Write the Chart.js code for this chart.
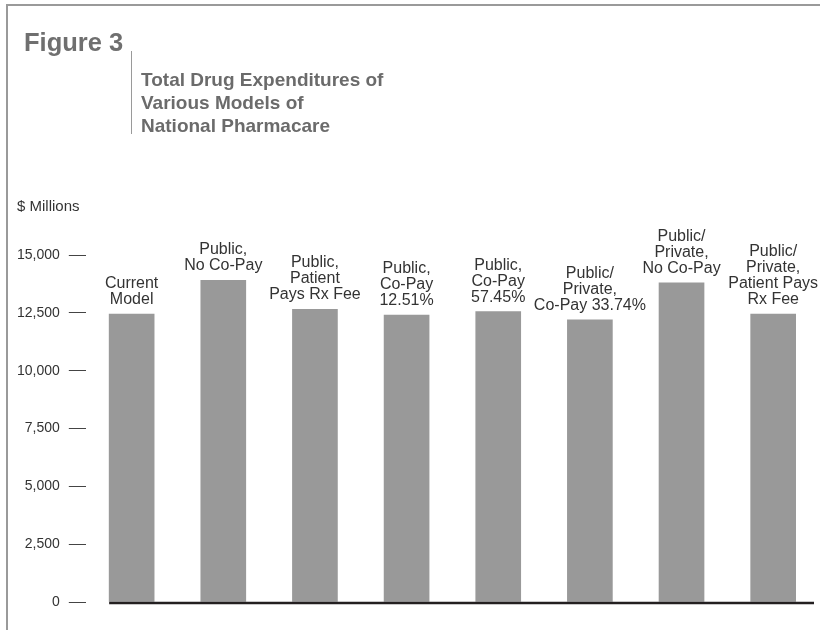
<!DOCTYPE html>
<html>
<head>
<meta charset="utf-8">
<script src="https://cdn.jsdelivr.net/npm/chart.js@4"></script>
<style>
    body { margin: 0; background: #fff; font-family: "Liberation Sans", Arial, sans-serif; }
    .wrap { position: relative; width: 820px; height: 630px; overflow: hidden; }
    #chart { position: absolute; left: 0; top: 0; }
    .frame { position: absolute; left: 6px; top: 4px; width: 830px; height: 640px;
             border-top: 2px solid #9a9a9a; border-left: 2px solid #9a9a9a; }
    .fig { position: absolute; left: 24px; top: 30px; font-size: 25.5px; line-height: 25px;
           font-weight: bold; color: #6f6f6f; }
    .sep { position: absolute; left: 131px; top: 51px; width: 1px; height: 83px; background: #9a9a9a; }
    .sub { position: absolute; left: 141px; top: 68px; font-size: 19px; line-height: 23px;
           font-weight: bold; color: #6b6b6b; }
    .unit { position: absolute; left: 17px; top: 198px; font-size: 15px; line-height: 15px; color: #333; }
</style>
</head>
<body>
<div class="wrap">
    <canvas id="chart" width="820" height="630"></canvas>
    <div class="frame"></div>
    <div class="fig">Figure 3</div>
    <div class="sep"></div>
    <div class="sub">Total Drug Expenditures of<br>Various Models of<br>National Pharmacare</div>
    <div class="unit">$ Millions</div>
</div>
<script>
// --- Data ---
const models = [
    ['Current', 'Model'],
    ['Public,', 'No Co-Pay'],
    ['Public,', 'Patient', 'Pays Rx Fee'],
    ['Public,', 'Co-Pay', '12.51%'],
    ['Public,', 'Co-Pay', '57.45%'],
    ['Public/', 'Private,', 'Co-Pay 33.74%'],
    ['Public/', 'Private,', 'No Co-Pay'],
    ['Public/', 'Private,', 'Patient Pays', 'Rx Fee']
];
const expenditures = [12450, 13900, 12650, 12400, 12550, 12200, 13800, 12450];
const yTicks = [0, 2500, 5000, 7500, 10000, 12500, 15000];

// labels above each bar + heavy baseline
const barLabels = {
    id: 'barLabels',
    afterDatasetsDraw(chart) {
        const ctx = chart.ctx;
        const meta = chart.getDatasetMeta(0);
        const y0 = chart.scales.y.getPixelForValue(0);
        ctx.save();

        // baseline
        const first = meta.data[0];
        ctx.strokeStyle = '#231f20';
        ctx.lineWidth = 2.5;
        ctx.beginPath();
        ctx.moveTo(first.x - first.width / 2, y0 + 1);
        ctx.lineTo(814, y0 + 1);
        ctx.stroke();

        ctx.fillStyle = '#333';
        ctx.font = '16px "Liberation Sans", Arial, sans-serif';
        ctx.textAlign = 'center';
        ctx.textBaseline = 'alphabetic';
        const lh = 16;
        meta.data.forEach((bar, i) => {
            const lines = models[i];
            lines.forEach((line, j) => {
                const y = bar.y - 10 - (lines.length - 1 - j) * lh;
                ctx.fillText(line, bar.x, y);
            });
        });
        ctx.restore();
    }
};

new Chart(document.getElementById('chart'), {
    type: 'bar',
    data: {
        labels: models,
        datasets: [{
            data: expenditures,
            backgroundColor: '#999999',
            barThickness: 45
        }]
    },
    options: {
        responsive: false,
        animation: false,
        layout: { padding: { left: 8, right: 1, top: 255, bottom: 28 } },
        plugins: { legend: { display: false }, tooltip: { enabled: false } },
        scales: {
            x: { display: false },
            y: {
                min: 0,
                max: 15000,
                afterBuildTicks: (axis) => { axis.ticks = yTicks.map(v => ({ value: v })); },
                border: { display: false },
                grid: {
                    drawOnChartArea: false,
                    drawTicks: true,
                    tickLength: 17,
                    tickColor: '#444',
                    lineWidth: 1
                },
                ticks: {
                    padding: 9,
                    color: '#333',
                    font: { family: '"Liberation Sans", Arial, sans-serif', size: 14 },
                    callback: (v) => v.toLocaleString('en-US')
                }
            }
        }
    },
    plugins: [barLabels]
});
</script>
</body>
</html>
